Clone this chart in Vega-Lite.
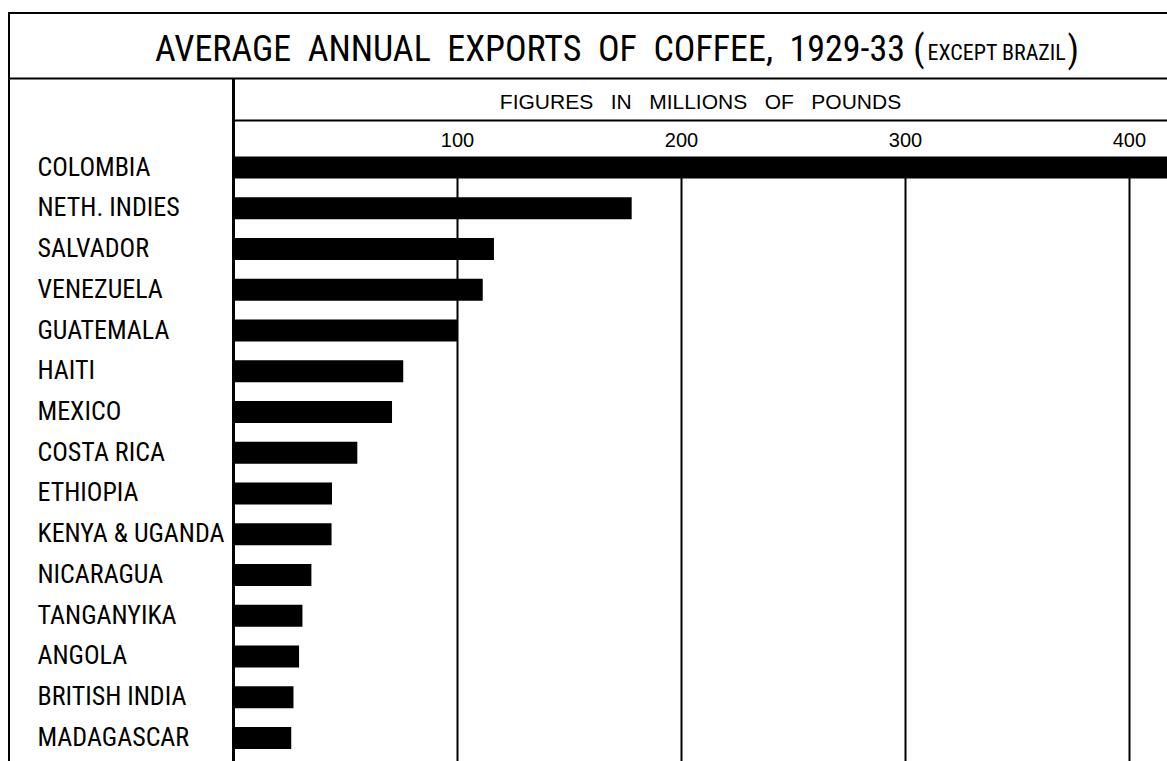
{
  "$schema": "https://vega.github.io/schema/vega-lite/v6.json",
  "background": "white",
  "autosize": "none",
  "padding": {"left": 9, "top": 13, "right": -2, "bottom": -2},
  "width": 1160,
  "height": 750,
  "config": {
    "view": {"stroke": "black", "strokeWidth": 2},
    "font": "Roboto Condensed, Roboto"
  },
  "title": {
    "text": "AVERAGE\u00a0\u00a0ANNUAL\u00a0\u00a0EXPORTS\u00a0\u00a0OF\u00a0\u00a0COFFEE,\u00a0\u00a01929-33\u00a0(",
    "anchor": "start",
    "frame": "group",
    "dx": 146,
    "offset": -85,
    "baseline": "alphabetic",
    "font": "Roboto Condensed, Roboto",
    "fontSize": 36,
    "fontWeight": "normal",
    "color": "black"
  },
  "data": {
    "values": [
      {"country": "COLOMBIA", "exports": 425},
      {"country": "NETH. INDIES", "exports": 178},
      {"country": "SALVADOR", "exports": 116.5},
      {"country": "VENEZUELA", "exports": 111.5},
      {"country": "GUATEMALA", "exports": 100},
      {"country": "HAITI", "exports": 76},
      {"country": "MEXICO", "exports": 71},
      {"country": "COSTA RICA", "exports": 55.5},
      {"country": "ETHIOPIA", "exports": 44.2},
      {"country": "KENYA & UGANDA", "exports": 44},
      {"country": "NICARAGUA", "exports": 35},
      {"country": "TANGANYIKA", "exports": 31},
      {"country": "ANGOLA", "exports": 29.5},
      {"country": "BRITISH INDIA", "exports": 27},
      {"country": "MADAGASCAR", "exports": 26}
    ]
  },
  "resolve": {"scale": {"x": "independent"}, "axis": {"x": "independent"}},
  "layer": [
    {
      "mark": {"type": "bar", "color": "black", "clip": true},
      "encoding": {
        "y": {
          "field": "country",
          "type": "nominal",
          "sort": null,
          "scale": {"range": [143.5, 736], "paddingInner": 0.46, "paddingOuter": 0},
          "axis": {
            "orient": "left",
            "domain": false,
            "ticks": false,
            "tickSize": 0,
            "grid": false,
            "labelPadding": -28,
            "labelAlign": "left",
            "labelBaseline": "middle",
            "labelFont": "Roboto Condensed, Roboto",
            "labelFontSize": 26,
            "labelColor": "black",
            "labelLimit": 0,
            "title": "EXCEPT BRAZIL",
            "titleAngle": 0,
            "titleX": 918,
            "titleY": 46,
            "titleAlign": "left",
            "titleBaseline": "alphabetic",
            "titleFont": "Roboto Condensed, Roboto",
            "titleFontSize": 22,
            "titleFontWeight": "normal",
            "titleColor": "black"
          }
        },
        "x": {
          "field": "exports",
          "type": "quantitative",
          "scale": {"domain": [0, 417], "range": [224, 1158], "nice": false, "zero": true},
          "axis": {
            "orient": "top",
            "offset": -145,
            "values": [100, 200, 300, 400],
            "domain": true,
            "domainColor": "black",
            "domainWidth": 3,
            "ticks": false,
            "grid": false,
            "labelFont": "Liberation Sans",
            "labelFontSize": 20,
            "labelColor": "black",
            "labelPadding": 12,
            "labelBaseline": "alphabetic",
            "labelFlush": false,
            "title": null
          }
        }
      }
    },
    {
      "mark": {"type": "rule", "color": "black", "strokeOpacity": 0},
      "encoding": {
        "x": {
          "datum": 0,
          "type": "quantitative",
          "scale": {"domain": [0, 417], "range": [224, 1158], "nice": false, "zero": true},
          "axis": {
            "orient": "bottom",
            "values": [100, 200, 300, 400],
            "domain": false,
            "labels": false,
            "ticks": true,
            "tickSize": -605,
            "tickColor": "black",
            "tickWidth": 2,
            "grid": false,
            "title": null
          }
        }
      }
    },
    {
      "mark": {"type": "rule", "color": "black", "strokeOpacity": 0},
      "encoding": {
        "x": {
          "datum": 0,
          "type": "quantitative",
          "scale": {"domain": [0, 417], "range": [224, 1158], "nice": false, "zero": true},
          "axis": {
            "orient": "bottom",
            "values": [0],
            "domain": false,
            "labels": false,
            "ticks": true,
            "tickSize": -685,
            "tickColor": "black",
            "tickWidth": 3,
            "grid": false,
            "title": null
          }
        }
      }
    },
    {
      "mark": {"type": "rule", "color": "black", "strokeOpacity": 0},
      "encoding": {
        "x": {
          "datum": 0,
          "type": "quantitative",
          "scale": {"domain": [0, 417], "range": [224, 1158], "nice": false, "zero": true},
          "axis": {
            "orient": "top",
            "offset": -107,
            "values": [],
            "domain": true,
            "domainColor": "black",
            "domainWidth": 2,
            "labels": false,
            "ticks": false,
            "grid": false,
            "title": "FIGURES\u00a0\u00a0\u00a0IN\u00a0\u00a0\u00a0MILLIONS\u00a0\u00a0\u00a0OF\u00a0\u00a0\u00a0POUNDS",
            "titleFont": "Liberation Sans",
            "titleFontSize": 21,
            "titleFontWeight": "normal",
            "titleColor": "black",
            "titlePadding": 12,
            "titleBaseline": "alphabetic"
          }
        }
      }
    },
    {
      "mark": {"type": "rule", "color": "black", "strokeWidth": 2},
      "encoding": {
        "x": {
          "datum": 0,
          "type": "quantitative",
          "scale": {"domain": [0, 1], "nice": false},
          "axis": {
            "orient": "top",
            "offset": -65,
            "values": [],
            "domain": true,
            "domainColor": "black",
            "domainWidth": 2,
            "labels": false,
            "ticks": false,
            "grid": false,
            "title": ")",
            "titleAngle": 0,
            "titleX": 1058,
            "titleY": -17,
            "titleAlign": "left",
            "titleBaseline": "alphabetic",
            "titleFont": "Roboto Condensed, Roboto",
            "titleFontSize": 36,
            "titleFontWeight": "normal",
            "titleColor": "black"
          }
        }
      }
    }
  ]
}
